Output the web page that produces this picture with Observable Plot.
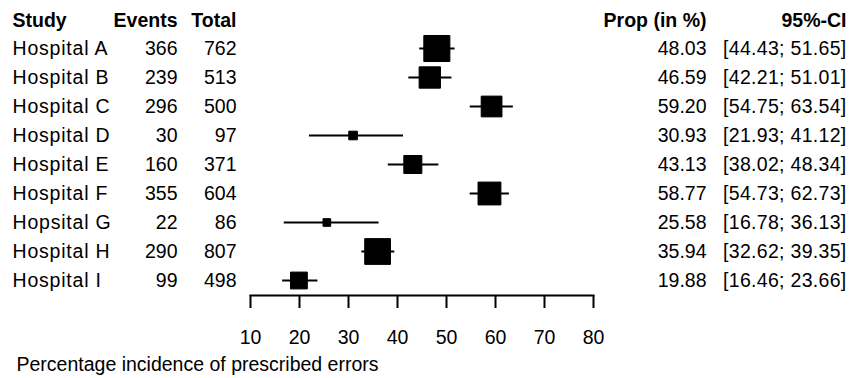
<!DOCTYPE html>
<html><head><meta charset="utf-8">
<script src="https://cdn.jsdelivr.net/npm/d3@7"></script>
<script src="https://cdn.jsdelivr.net/npm/@observablehq/plot@0.6"></script>
<style>body{margin:0;background:#fff} svg{display:block}</style>
</head><body><div id="chart"></div>
<script>
const studies = ["Hospital A","Hospital B","Hospital C","Hospital D","Hospital E","Hospital F","Hopsital G","Hospital H","Hospital I"];
const events = [366,239,296,30,160,355,22,290,99];
const totals = [762,513,500,97,371,604,86,807,498];
const props = [48.03,46.59,59.20,30.93,43.13,58.77,25.58,35.94,19.88];
const lower = [44.43,42.21,54.75,21.93,38.02,54.73,16.78,32.62,16.46];
const upper = [51.65,51.01,63.54,41.12,48.34,62.73,36.13,39.35,23.66];
const xTicks = [10,20,30,40,50,60,70,80];
const headers = ["Study","Events","Total","Prop (in %)","95%-CI"];
const caption = "Percentage incidence of prescribed errors";

const rows = studies.map((s,i)=>({
  study:s, events:events[i], total:totals[i], prop:props[i], lo:lower[i], hi:upper[i],
  w: events[i]*(totals[i]-events[i])/totals[i]
}));
const wMax = d3.max(rows, d=>d.w);
const font = "Liberation Sans, Arial, sans-serif";
const fs = 19.5;
const txt = (opts) => ({fontFamily: font, fontSize: fs, fill: "black", ...opts});

const chart = Plot.plot({
  width: 862, height: 378,
  marginLeft: 250, marginRight: 269, marginTop: 0, marginBottom: 83,
  style: {fontFamily: font, background: "white", color: "black"},
  x: {domain: [10, 80]},
  y: {type: "point", domain: studies, range: [47, 281], padding: 0, axis: null},
  r: {type: "sqrt", domain: [0, wMax], range: [0, 14.7]},
  marks: [
    Plot.frame({anchor: "bottom", stroke: "black", strokeWidth: 2}),
    Plot.axisX(xTicks, {tickSize: 13, tickPadding: 22, fontSize: fs, fontFamily: font, strokeWidth: 2, label: null, stroke: "black", fill: "black"}),
    Plot.link(rows, {x1: "lo", x2: "hi", y1: "study", y2: "study", stroke: "black", strokeWidth: 2}),
    Plot.dot(rows, {x: "prop", y: "study", r: "w", symbol: "square", fill: "black", stroke: "black", strokeWidth: 1}),
    // left table
    Plot.text(rows, txt({y: "study", text: "study", frameAnchor: "left", dx: -238, textAnchor: "start", className: "names"})),
    Plot.text(rows, txt({y: "study", text: d=>String(d.events), frameAnchor: "left", dx: -73, textAnchor: "end"})),
    Plot.text(rows, txt({y: "study", text: d=>String(d.total), frameAnchor: "left", dx: -14, textAnchor: "end"})),
    // right table
    Plot.text(rows, txt({y: "study", text: d=>d.prop.toFixed(2), frameAnchor: "right", dx: 113, textAnchor: "end"})),
    Plot.text(rows, txt({y: "study", text: d=>`[${d.lo.toFixed(2)}; ${d.hi.toFixed(2)}]`, frameAnchor: "right", dx: 253, textAnchor: "end", className: "ci"})),
    // headers
    Plot.text([headers[0]], txt({y: () => studies[0], text: d=>d, frameAnchor: "left", dx: -238, dy: -28, textAnchor: "start", fontWeight: "bold"})),
    Plot.text([headers[1]], txt({y: () => studies[0], text: d=>d, frameAnchor: "left", dx: -73, dy: -28, textAnchor: "end", fontWeight: "bold"})),
    Plot.text([headers[2]], txt({y: () => studies[0], text: d=>d, frameAnchor: "left", dx: -14, dy: -28, textAnchor: "end", fontWeight: "bold"})),
    Plot.text([headers[3]], txt({y: () => studies[0], text: d=>d, frameAnchor: "right", dx: 113, dy: -28, textAnchor: "end", fontWeight: "bold"})),
    Plot.text([headers[4]], txt({y: () => studies[0], text: d=>d, frameAnchor: "right", dx: 253, dy: -28, textAnchor: "end", fontWeight: "bold"})),
    // caption
    Plot.text([caption], txt({text: d=>d, frameAnchor: "bottom-left", dx: -234, dy: 69, textAnchor: "start", lineAnchor: "middle"}))
  ]
});
chart.querySelectorAll("g.names text").forEach(t => t.setAttribute("letter-spacing", "0.8"));
chart.querySelectorAll("g.ci text").forEach(t => t.setAttribute("letter-spacing", "0.3"));
document.getElementById("chart").appendChild(chart);
</script>
</body></html>
